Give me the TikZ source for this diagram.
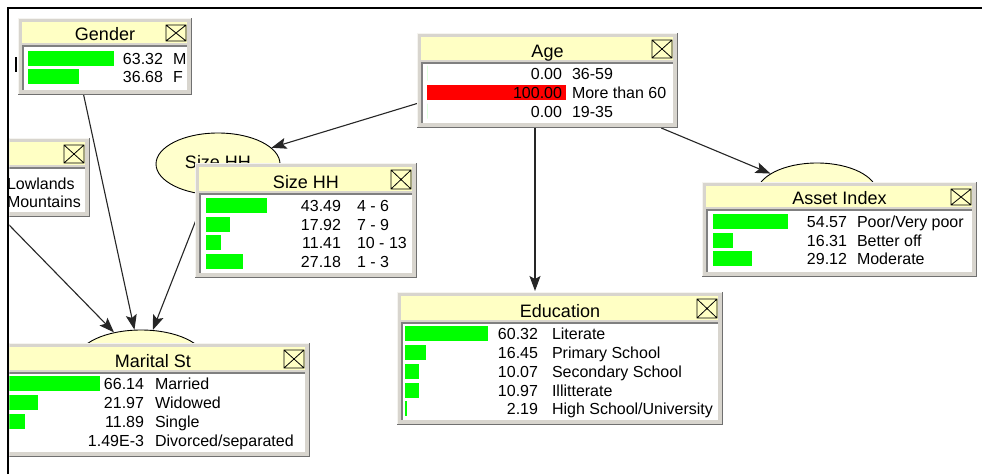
\documentclass[tikz,border=0pt]{standalone}
\usepackage{fontspec}
\setmainfont{Liberation Sans}
\usetikzlibrary{arrows.meta,shapes.geometric}
\pgfdeclarelayer{under}
\pgfsetlayers{under,main}

\definecolor{framegray}{RGB}{216,213,206}
\definecolor{framehi}{RGB}{245,244,240}
\definecolor{frameshade}{RGB}{112,112,112}
\definecolor{panelshade}{RGB}{128,128,128}
\definecolor{titlebg}{RGB}{255,255,196}
\definecolor{nodebg}{RGB}{255,255,204}
\definecolor{bargreen}{RGB}{0,255,0}
\definecolor{barred}{RGB}{255,0,0}

\tikzset{
  valtext/.style={font=\fontsize{16}{19}\selectfont, inner sep=0pt, outer sep=0pt},
  titletext/.style={font=\fontsize{18}{21}\selectfont, inner sep=0pt},
  winframe/.style={fill=framegray, inner sep=0pt, outer sep=0pt},
  ellnode/.style={ellipse, draw=black, line width=0.9pt, fill=nodebg, inner sep=0pt},
  conn/.style={draw=black!85, line width=1.1pt, -{Stealth[length=15pt,width=11pt,inset=3pt]}},
  closebox/.style={draw=black, line width=0.8pt},
}

% monitor window: name, x1, y1, x2, y2, bottom of title bar, title
\newcommand{\monwin}[7]{%
  \node[winframe, anchor=north west, minimum width={(#4)-(#2)}, minimum height={(#5)-(#3)}] (#1) at (#2,#3) {};
  \draw[framehi, line width=1pt] ({#2+0.5},{#5-1}) -- ({#2+0.5},{#3+0.5}) -- ({#4-1},{#3+0.5});
  \draw[frameshade, line width=1.5pt] ({#2},{#5-0.75}) -- ({#4-0.75},{#5-0.75}) -- ({#4-0.75},{#3});
  \fill[titlebg] ({#2+4},{#3+4}) rectangle ({#4-5},{#6});
  \fill[white] ({#2+4},{#6+2}) rectangle ({#4-5},{#5-5});
  \draw[panelshade, line width=2pt] ({#2+5},{#5-5}) -- ({#2+5},{#6+3}) -- ({#4-5},{#6+3});
  \draw[closebox] ({#4-26},{#3+7}) rectangle ({#4-6},{#6-2})
    ({#4-26},{#3+7}) -- ({#4-6},{#6-2}) ({#4-26},{#6-2}) -- ({#4-6},{#3+7});
  \node[titletext, anchor=base] (#1-title) at ({(#2+#4)/2},{#6-3}) {#7};
}

% one state row: name, bar start, bar end, row centre, value right edge, label left edge, value, label, bar colour
\newcommand{\monrow}[9]{%
  \fill[#9] ({#2},{#4-7.5}) rectangle ({#3},{#4+7.5});
  \node[valtext, anchor=base east] (#1-v) at ({#5},{#4+6}) {#7};
  \node[valtext, anchor=base west] (#1-l) at ({#6},{#4+6}) {#8};
}

\begin{document}
\begin{tikzpicture}[x=1pt,y=-1pt]
\useasboundingbox (0,0) rectangle (982,474);

\begin{scope}
  \clip (9.3,9.3) rectangle (982,474);

  % Region (only its right part is in view)
  \monwin{lowl}{-200}{138}{90}{217}{165}{}
  \node[valtext, anchor=base west] (lowl-1-l) at (7,189) {Lowlands};
  \node[valtext, anchor=base west] (lowl-2-l) at (7,207) {Mountains};

  % Gender
  \monwin{gender}{18}{18}{192}{95}{43}{Gender}
  \monrow{gender-1}{28}{114}{58}{163}{173}{63.32}{M}{bargreen}
  \monrow{gender-2}{28}{79}{76}{163}{173}{36.68}{F}{bargreen}

  % Age
  \monwin{age}{417}{33}{678}{128}{60}{Age}
  \monrow{age-1}{427}{427}{73}{562}{572}{0.00}{36-59}{bargreen}
  \monrow{age-2}{427}{566}{92}{562}{572}{100.00}{More than 60}{barred}
  \monrow{age-3}{427}{427}{111}{562}{572}{0.00}{19-35}{bargreen}

  % Size HH
  \monwin{sizehh}{195}{163}{417}{278}{191}{Size HH}
  \monrow{sizehh-1}{206}{267}{205.5}{341}{357}{43.49}{4 - 6}{bargreen}
  \monrow{sizehh-2}{206}{230}{224}{341}{357}{17.92}{7 - 9}{bargreen}
  \monrow{sizehh-3}{206}{221}{242.5}{341}{357}{11.41}{10 - 13}{bargreen}
  \monrow{sizehh-4}{206}{243}{261}{341}{357}{27.18}{1 - 3}{bargreen}

  % Asset Index
  \monwin{asset}{702}{182}{977}{277}{207}{Asset Index}
  \monrow{asset-1}{713}{788}{221}{847}{857}{54.57}{Poor/Very poor}{bargreen}
  \monrow{asset-2}{713}{733}{240}{847}{857}{16.31}{Better off}{bargreen}
  \monrow{asset-3}{713}{752}{258.5}{847}{857}{29.12}{Moderate}{bargreen}

  % Education
  \monwin{edu}{397}{292}{723}{425}{320}{Education}
  \monrow{edu-1}{405}{488}{333}{538}{552}{60.32}{Literate}{bargreen}
  \monrow{edu-2}{405}{426}{352}{538}{552}{16.45}{Primary School}{bargreen}
  \monrow{edu-3}{405}{419}{371}{538}{552}{10.07}{Secondary School}{bargreen}
  \monrow{edu-4}{405}{419}{390}{538}{552}{10.97}{Illitterate}{bargreen}
  \monrow{edu-5}{405}{407}{408.5}{538}{552}{2.19}{High School/University}{bargreen}

  % Marital St
  \monwin{marital}{-4}{343}{310}{457}{370}{Marital St}
  \monrow{marital-1}{7}{100}{383}{144}{155}{66.14}{Married}{bargreen}
  \monrow{marital-2}{7}{38}{402}{144}{155}{21.97}{Widowed}{bargreen}
  \monrow{marital-3}{7}{25}{421}{144}{155}{11.89}{Single}{bargreen}
  \monrow{marital-4}{7}{7}{440}{144}{155}{1.49E-3}{Divorced/separated}{bargreen}

  % stray tick left of the Gender window
  \draw[line width=1.2pt] (16,57) -- (16,72);
\end{scope}

% network nodes and links, beneath the monitor windows
\begin{pgfonlayer}{under}
  \fill[white] (0,0) rectangle (982,474);
  \begin{scope}
    \clip (9.3,9.3) rectangle (982,474);
    \node[ellnode, minimum width=124pt, minimum height=62pt] (sizeEll) at (218,164) {};
    \node[titletext, anchor=base] (sizeEll-t) at (218,168) {Size HH};
    \node[ellnode, minimum width=120pt, minimum height=60pt] (assetEll) at (817,193) {};
    \node[ellnode, minimum width=128pt, minimum height=60pt] (maritalEll) at (141,360) {};
    \coordinate (lowc) at (-30,185);
    \coordinate (eduTop) at (535,291);

    \draw[conn] (lowc) -- (maritalEll);
    \draw[conn] (gender.241) -- (maritalEll);
    \draw[conn] (sizeEll) -- (maritalEll);
    \draw[conn] (age.190) -- (sizeEll);
    \draw[conn] (age.south -| eduTop) -- (eduTop);
    \draw[conn] (age) -- (assetEll);
  \end{scope}
\end{pgfonlayer}

% outer frame
\draw[line width=2.5pt] (8,474) -- (8,8) -- (982,8);
\end{tikzpicture}
\end{document}
